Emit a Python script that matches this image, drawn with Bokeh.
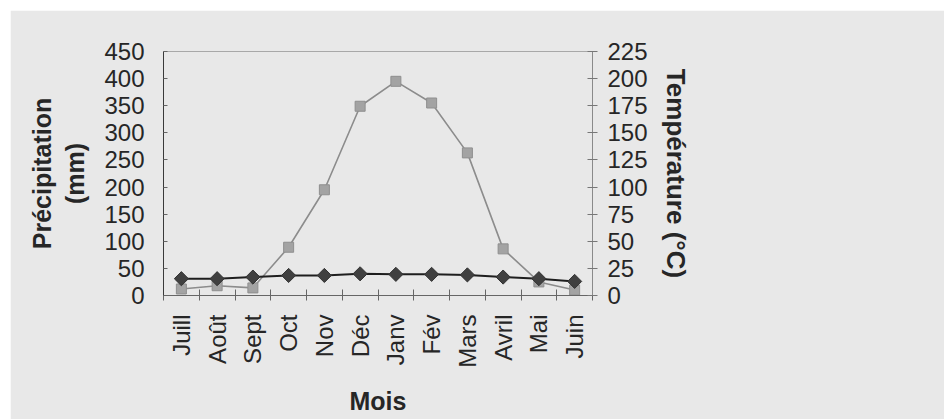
import numpy as np
from bokeh.plotting import figure
from bokeh.models import (Range1d, LinearAxis, FixedTicker, Legend, LegendItem)
from bokeh.embed import file_html
from bokeh.resources import INLINE

# Monthly climate series (hydrological year, July to June)
months = ["Juill", "Août", "Sept", "Oct", "Nov", "Déc",
          "Janv", "Fév", "Mars", "Avril", "Mai", "Juin"]
precipitation_mm = [12, 18, 14, 89, 195, 349, 395, 355, 263, 86, 25, 10]
temperature_c = [15.5, 15.5, 17, 18.5, 18.5, 20, 19.5, 19.5, 19, 17, 15.5, 13]

precip_ticks = list(range(0, 451, 50))
temp_ticks = list(range(0, 226, 25))

FONT = "Liberation Sans"
BG = "#e8e8e8"
INK = "#262626"

x = np.arange(len(months))

p = figure(frame_width=429, frame_height=244, output_backend="svg", toolbar_location=None,
           x_range=Range1d(-0.5, len(months) - 0.5),
           y_range=Range1d(0, 450),
           min_border_left=153, min_border_right=352,
           min_border_top=41, min_border_bottom=124,
           background_fill_color=BG, border_fill_color=BG,
           x_axis_location=None, y_axis_location=None)
p.margin = (10, 0, 0, 10)
p.grid.visible = False
p.outline_line_color = "#a8a8a8"
p.outline_line_width = 1

p.extra_y_ranges = {"temp": Range1d(0, 225)}

# Month axis: labels at month centres, small ticks on the boundaries
xaxis = LinearAxis(ticker=FixedTicker(ticks=list(x),
                                      minor_ticks=[i - 0.5 for i in range(len(months) + 1)]))
xaxis.major_label_overrides = {int(i): m for i, m in zip(x, months)}
xaxis.major_label_orientation = np.pi / 2
xaxis.major_tick_line_color = None
xaxis.major_tick_in = 0
xaxis.major_tick_out = 0
xaxis.minor_tick_line_color = "#666666"
xaxis.minor_tick_in = 6
xaxis.minor_tick_out = 5
xaxis.axis_line_color = "#666666"
xaxis.major_label_standoff = 14
xaxis.major_label_text_font = FONT
xaxis.major_label_text_font_size = "24px"
xaxis.major_label_text_color = INK
xaxis.axis_label = "Mois"
xaxis.axis_label_text_font = FONT
xaxis.axis_label_text_font_size = "25px"
xaxis.axis_label_text_font_style = "bold"
xaxis.axis_label_text_color = INK
xaxis.axis_label_standoff = 16
p.add_layout(xaxis, "below")

# Precipitation axis (left)
yaxis = LinearAxis(ticker=FixedTicker(ticks=precip_ticks))
yaxis.axis_line_color = "#3a3a3a"
yaxis.major_tick_line_color = "#666666"
yaxis.major_tick_in = 4
yaxis.major_tick_out = 0
yaxis.minor_tick_line_color = None
yaxis.major_label_standoff = 19
yaxis.major_label_text_font = FONT
yaxis.major_label_text_font_size = "24px"
yaxis.major_label_text_color = INK
yaxis.axis_label = "Précipitation\n(mm)"
yaxis.axis_label_text_font = FONT
yaxis.axis_label_text_font_size = "25px"
yaxis.axis_label_text_font_style = "bold"
yaxis.axis_label_text_color = INK
yaxis.axis_label_standoff = 12
p.add_layout(yaxis, "left")

# Temperature axis (right)
taxis = LinearAxis(y_range_name="temp", ticker=FixedTicker(ticks=temp_ticks))
taxis.axis_line_color = "#8a8a8a"
taxis.major_tick_line_color = "#777777"
taxis.major_tick_in = 5
taxis.major_tick_out = 5
taxis.minor_tick_line_color = None
taxis.major_label_standoff = 10
taxis.major_label_text_font = FONT
taxis.major_label_text_font_size = "24px"
taxis.major_label_text_color = INK
taxis.axis_label = "Température (°C)"
taxis.axis_label_text_font = FONT
taxis.axis_label_text_font_size = "26px"
taxis.axis_label_text_font_style = "bold"
taxis.axis_label_text_color = INK
taxis.axis_label_standoff = 10
p.add_layout(taxis, "right")

# Series
pl = p.line(x, precipitation_mm, line_color="#8c8c8c", line_width=1.6)
ps = p.scatter(x, precipitation_mm, marker="square", size=10,
               fill_color="#a3a3a3", line_color="#8f8f8f", line_width=1)
tl = p.line(x, temperature_c, y_range_name="temp", line_color="#1e1e1e", line_width=2)
ts = p.scatter(x, temperature_c, y_range_name="temp", marker="square", angle=np.pi / 4,
               size=10, fill_color="#404040", line_color="#333333", line_width=1)

# Legend sits in the right-hand panel, just past the temperature axis
legend = Legend(items=[LegendItem(label="Précipitation", renderers=[pl, ps]),
                       LegendItem(label="Température", renderers=[tl, ts])],
                location="center_left")
legend.label_text_font = FONT
legend.label_text_font_size = "24px"
legend.label_text_color = INK
legend.glyph_width = 52
legend.glyph_height = 30
legend.label_height = 30
legend.label_standoff = 6
legend.spacing = 4
legend.padding = 8
legend.margin = 19
legend.border_line_color = "#b0b0b0"
legend.border_line_dash = "4 2"
legend.background_fill_alpha = 0
p.add_layout(legend, "right")

open("out.html", "w").write(file_html(p, INLINE))
